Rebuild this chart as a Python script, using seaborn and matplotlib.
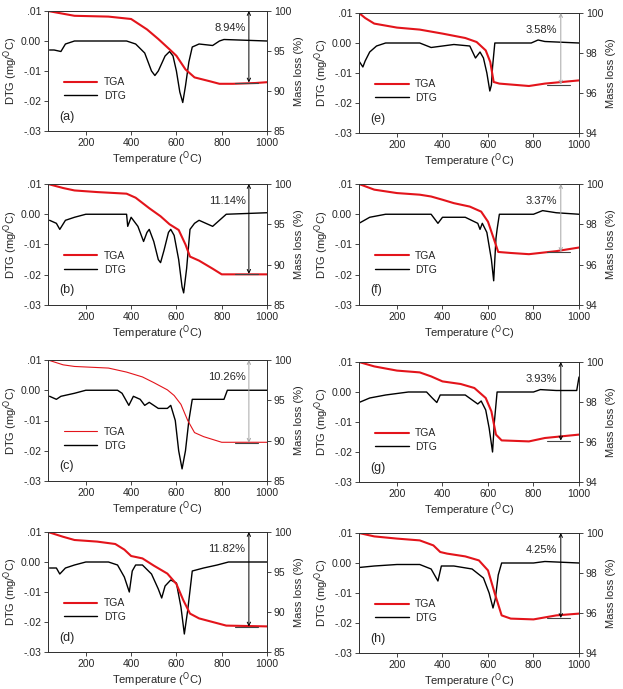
import pandas as pd
import matplotlib.pyplot as plt
import seaborn as sns

sns.set_style('white')
plt.rcParams['font.family'] = ['Liberation Sans', 'DejaVu Sans']

# ---- data (temperature in C, DTG in mg/C, TGA in %) ----
a_dtg_t = [40, 60, 90, 110, 150, 380, 420, 460, 490, 505, 520, 550, 570, 585, 600, 615, 628, 640, 655, 670, 700, 760, 790, 810, 1000]
a_dtg = [-0.003, -0.003, -0.0035, -0.001, 0.0, 0.0, -0.001, -0.004, -0.010, -0.0115, -0.010, -0.005, -0.0035, -0.005, -0.010, -0.017, -0.0205, -0.015, -0.007, -0.002, -0.001, -0.0015, 0.0, 0.0005, 0.0]
a_tga_t = [33, 150, 300, 400, 470, 520, 570, 600, 640, 680, 750, 790, 850, 950, 1000]
a_tga = [100, 99.4, 99.3, 99.0, 97.7, 96.5, 95.2, 94.4, 92.7, 91.7, 91.2, 90.9, 90.9, 91.0, 91.1]

b_dtg_t = [40, 70, 85, 110, 150, 200, 380, 385, 400, 430, 455, 470, 480, 500, 520, 530, 545, 565, 575, 590, 610, 625, 632, 645, 660, 680, 700, 730, 760, 790, 820, 1000]
b_dtg = [-0.002, -0.003, -0.005, -0.002, -0.001, 0.0, 0.0, -0.004, -0.001, -0.004, -0.009, -0.006, -0.005, -0.009, -0.015, -0.016, -0.012, -0.006, -0.005, -0.007, -0.015, -0.024, -0.026, -0.018, -0.005, -0.003, -0.002, -0.003, -0.004, -0.002, 0.0, 0.0005]
b_tga_t = [33, 100, 150, 250, 380, 420, 480, 530, 570, 610, 640, 660, 700, 760, 800, 1000]
b_tga = [100, 99.5, 99.2, 99.0, 98.8, 98.3, 97.0, 96.0, 95.0, 94.3, 92.5, 91.0, 90.5, 89.5, 88.8, 88.8]

c_dtg_t = [40, 70, 90, 150, 200, 340, 360, 390, 410, 440, 460, 480, 520, 560, 575, 595, 610, 625, 640, 655, 670, 720, 810, 825, 1000]
c_dtg = [-0.002, -0.003, -0.002, -0.001, 0.0, 0.0, -0.001, -0.005, -0.002, -0.003, -0.005, -0.004, -0.006, -0.006, -0.005, -0.010, -0.020, -0.026, -0.020, -0.010, -0.003, -0.003, -0.003, 0.0, 0.0]
c_tga_t = [33, 100, 150, 300, 380, 450, 500, 560, 590, 620, 650, 680, 720, 800, 1000]
c_tga = [100, 99.4, 99.2, 99.0, 98.5, 97.9, 97.2, 96.3, 95.6, 94.5, 92.5, 91.0, 90.5, 89.8, 89.8]

d_dtg_t = [40, 70, 85, 110, 150, 200, 300, 340, 370, 392, 405, 420, 450, 490, 520, 535, 550, 575, 600, 620, 635, 650, 670, 720, 780, 830, 1000]
d_dtg = [-0.002, -0.002, -0.004, -0.002, -0.001, 0.0, 0.0, -0.001, -0.005, -0.010, -0.003, -0.001, -0.001, -0.004, -0.009, -0.012, -0.008, -0.006, -0.007, -0.015, -0.024, -0.016, -0.003, -0.002, -0.001, 0.0, 0.0]
d_tga_t = [33, 100, 150, 250, 330, 370, 400, 450, 500, 560, 600, 630, 660, 700, 780, 820, 1000]
d_tga = [100, 99.4, 99.0, 98.8, 98.5, 97.8, 97.0, 96.7, 95.8, 94.8, 93.5, 91.5, 89.8, 89.2, 88.6, 88.3, 88.2]

e_dtg_t = [33, 50, 60, 80, 110, 150, 300, 350, 400, 450, 520, 545, 565, 580, 595, 608, 615, 620, 630, 700, 790, 820, 850, 1000]
e_dtg = [-0.006, -0.008, -0.006, -0.003, -0.001, 0.0, 0.0, -0.0015, -0.001, -0.0005, -0.001, -0.005, -0.003, -0.005, -0.010, -0.016, -0.014, -0.008, 0.0, 0.0, 0.0, 0.001, 0.0005, 0.0]
e_tga_t = [33, 60, 100, 200, 300, 400, 500, 550, 590, 610, 625, 650, 780, 850, 1000]
e_tga = [100, 99.75, 99.47, 99.27, 99.17, 98.97, 98.75, 98.55, 98.13, 97.55, 96.55, 96.47, 96.35, 96.47, 96.63]

f_dtg_t = [33, 80, 150, 350, 370, 380, 400, 500, 555, 565, 575, 595, 615, 625, 635, 640, 650, 800, 840, 900, 1000]
f_dtg = [-0.003, -0.001, 0.0, 0.0, -0.002, -0.003, -0.001, -0.001, -0.003, -0.005, -0.003, -0.006, -0.015, -0.022, -0.008, -0.005, 0.0, 0.0, 0.0012, 0.0005, 0.0]
f_tga_t = [33, 100, 200, 300, 350, 400, 450, 520, 570, 600, 625, 645, 700, 780, 900, 1000]
f_tga = [100, 99.72, 99.55, 99.47, 99.38, 99.22, 99.05, 98.88, 98.63, 98.13, 97.3, 96.63, 96.58, 96.52, 96.67, 96.85]

g_dtg_t = [33, 80, 150, 250, 330, 355, 375, 390, 500, 555, 570, 590, 605, 620, 628, 640, 800, 830, 900, 990, 1000]
g_dtg = [-0.0035, -0.002, -0.001, 0.0, 0.0, -0.002, -0.0035, -0.001, -0.001, -0.004, -0.003, -0.006, -0.012, -0.020, -0.010, 0.0, 0.0, 0.0008, 0.0005, 0.0005, 0.005]
g_tga_t = [33, 100, 200, 300, 350, 400, 480, 540, 590, 615, 635, 660, 780, 850, 1000]
g_tga = [100, 99.78, 99.57, 99.48, 99.28, 99.03, 98.9, 98.7, 98.2, 97.53, 96.37, 96.08, 96.03, 96.2, 96.37]

h_dtg_t = [33, 100, 200, 300, 350, 380, 395, 450, 530, 580, 605, 622, 632, 645, 660, 800, 850, 1000]
h_dtg = [-0.0015, -0.001, -0.0005, -0.0005, -0.002, -0.006, -0.001, -0.001, -0.002, -0.005, -0.010, -0.015, -0.012, -0.004, 0.0, 0.0, 0.0005, 0.0]
h_tga_t = [33, 100, 200, 300, 360, 390, 420, 500, 560, 600, 630, 660, 700, 800, 900, 1000]
h_tga = [100, 99.83, 99.72, 99.63, 99.38, 99.05, 98.97, 98.83, 98.63, 98.13, 96.97, 95.88, 95.72, 95.68, 95.88, 95.97]

panel_letters = ['a', 'b', 'c', 'd', 'e', 'f', 'g', 'h']
mass_losses = [8.94, 11.14, 10.26, 11.82, 3.58, 3.37, 3.93, 4.25]
dtg_ticks = [0.01, 0.0, -0.01, -0.02, -0.03]
dtg_ticklabels = ['.01', '0.00', '-.01', '-.02', '-.03']
mass_ticks_low = [85, 90, 95, 100]      # panels a-d
mass_ticks_high = [94, 96, 98, 100]     # panels e-h
x_ticks = [200, 400, 600, 800, 1000]

curves = {
    'a': (a_dtg_t, a_dtg, a_tga_t, a_tga),
    'b': (b_dtg_t, b_dtg, b_tga_t, b_tga),
    'c': (c_dtg_t, c_dtg, c_tga_t, c_tga),
    'd': (d_dtg_t, d_dtg, d_tga_t, d_tga),
    'e': (e_dtg_t, e_dtg, e_tga_t, e_tga),
    'f': (f_dtg_t, f_dtg, f_tga_t, f_tga),
    'g': (g_dtg_t, g_dtg, g_tga_t, g_tga),
    'h': (h_dtg_t, h_dtg, h_tga_t, h_tga),
}

# axes boxes in pixels: left, top, right, bottom
W, H = 623, 689
boxes = {
    'a': (48, 11, 267, 131), 'b': (48, 184, 267, 305),
    'c': (48, 360, 267, 481), 'd': (48, 532, 267, 652),
    'e': (359, 13, 579, 133), 'f': (359, 184, 579, 305),
    'g': (359, 362, 579, 482), 'h': (359, 533, 579, 653),
}

red = '#e3141b'
fs = 7.5
fig = plt.figure(figsize=(W / 100, H / 100), dpi=100)

for i, key in enumerate(panel_letters):
    l, t, r, b = boxes[key]
    ax = fig.add_axes([l / W, 1 - b / H, (r - l) / W, (b - t) / H])
    ax2 = ax.twinx()
    dtg_t, dtg, tga_t, tga = curves[key]
    df_dtg = pd.DataFrame({'T': dtg_t, 'v': dtg})
    df_tga = pd.DataFrame({'T': tga_t, 'v': tga})

    sns.lineplot(data=df_dtg, x='T', y='v', ax=ax, color='black', lw=1.0, label='DTG', legend=False)
    tga_lw = 0.8 if key == 'c' else 1.5
    sns.lineplot(data=df_tga, x='T', y='v', ax=ax2, color=red, lw=tga_lw, label='TGA', legend=False)

    ax.set_xlim(33, 1000)
    ax.set_ylim(-0.03, 0.01)
    ax.set_yticks(dtg_ticks)
    ax.set_yticklabels(dtg_ticklabels)
    ax.set_xticks(x_ticks)
    if i < 4:
        ax2.set_ylim(85, 100)
        ax2.set_yticks(mass_ticks_low)
    else:
        ax2.set_ylim(94, 100)
        ax2.set_yticks(mass_ticks_high)

    ax.set_xlabel('Temperature ($^{\\mathrm{O}}$C)', fontsize=fs + 0.5, labelpad=1)
    ax.set_ylabel('DTG (mg/$^{\\mathrm{O}}$C)', fontsize=fs + 0.5, labelpad=1)
    ax2.set_ylabel('Mass loss (%)', fontsize=fs + 0.5, labelpad=2)
    for a_ in (ax, ax2):
        a_.tick_params(labelsize=fs, length=3, width=0.6, pad=2)
        for s in a_.spines.values():
            s.set_linewidth(0.7)
            s.set_color('#333333')
    ax.tick_params(axis='x', direction='out', bottom=True)
    ax.tick_params(axis='y', direction='out', left=True)
    ax2.tick_params(axis='y', direction='out', right=True)

    # mass-loss double arrow and end baseline
    loss = mass_losses[i]
    low = 100 - loss
    arrow_color = '0.65' if key in ('c', 'e', 'f') else 'black'
    ax2.annotate('', xy=(920, low), xytext=(920, 100),
                 arrowprops=dict(arrowstyle='<->', lw=0.7, color=arrow_color,
                                 shrinkA=0, shrinkB=0, mutation_scale=6))
    ax2.plot([860, 960], [low, low], color='#444444', lw=0.8)
    span = ax2.get_ylim()[1] - ax2.get_ylim()[0]
    ax2.text(905, 100 - 0.14 * span, f'{loss:.2f}%', ha='right', va='center', fontsize=fs + 0.5)

    ax.text(0.05, 0.12, f'({key})', transform=ax.transAxes, fontsize=fs + 1.5, va='center')

    handles = ax2.get_lines()[:1] + ax.get_lines()[:1]
    ax.legend(handles, ['TGA', 'DTG'], loc='upper left', bbox_to_anchor=(0.05, 0.49),
              frameon=False, fontsize=fs, handlelength=3.2, labelspacing=0.35,
              borderpad=0, handletextpad=0.6)

fig.savefig('out.png', dpi=100)
